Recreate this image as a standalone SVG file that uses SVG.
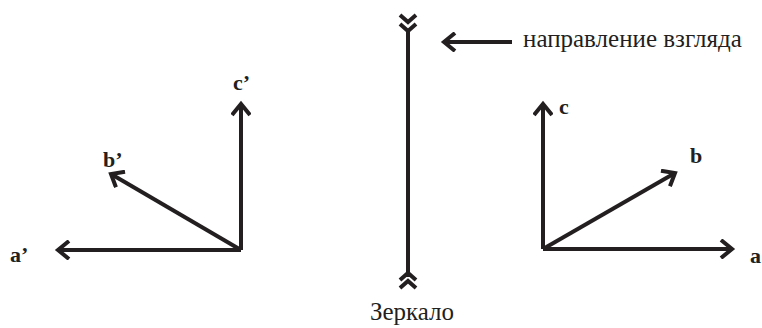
<svg xmlns="http://www.w3.org/2000/svg" width="762" height="328" viewBox="0 0 762 328">
<style>
.ln{stroke:#231f20;stroke-width:4;fill:none;stroke-linecap:butt;stroke-linejoin:miter}
.lb{font-family:"Liberation Serif",serif;font-weight:bold;font-size:22px;fill:#231f20}
.tx{font-family:"Liberation Serif",serif;font-size:25px;fill:#231f20}
</style>
<defs>
<marker id="ah" viewBox="0 0 20 20" refX="14" refY="10" markerWidth="20" markerHeight="20" markerUnits="userSpaceOnUse" orient="auto">
<path d="M3,1 L14,10 L3,19" stroke="#231f20" stroke-width="4" fill="none"/>
</marker>
</defs>
<g id="connectors">
<line class="ln" x1="241" y1="250" x2="241" y2="104" marker-end="url(#ah)"/>
<line class="ln" x1="241" y1="250" x2="58" y2="250" marker-end="url(#ah)"/>
<line class="ln" x1="241" y1="250" x2="111" y2="174" marker-end="url(#ah)"/>
<line class="ln" x1="543" y1="249" x2="543" y2="104" marker-end="url(#ah)"/>
<line class="ln" x1="543" y1="249" x2="732" y2="249" marker-end="url(#ah)"/>
<line class="ln" x1="543" y1="249" x2="675" y2="173" marker-end="url(#ah)"/>
<line class="ln" x1="512" y1="42" x2="444" y2="42" marker-end="url(#ah)"/>
</g>
<g id="mirror">
<line class="ln" x1="408" y1="31" x2="408" y2="277"/>
<path class="ln" d="M400,15 L408,22 L416,15 M400,24 L408,31 L416,24"/>
<path class="ln" d="M400,280 L408,273 L416,280 M400,288 L408,281 L416,288"/>
<text class="tx" x="412" y="320" text-anchor="middle">Зеркало</text>
</g>
<g id="view-label"><text class="tx" x="523" y="47">направление взгляда</text></g>
<g id="c-prime"><text class="lb" x="233" y="90">c’</text></g>
<g id="b-prime"><text class="lb" x="103" y="167">b’</text></g>
<g id="a-prime"><text class="lb" x="10" y="262">a’</text></g>
<g id="c"><text class="lb" x="559" y="114">c</text></g>
<g id="b"><text class="lb" x="690" y="163">b</text></g>
<g id="a"><text class="lb" x="750" y="263">a</text></g>
</svg>
